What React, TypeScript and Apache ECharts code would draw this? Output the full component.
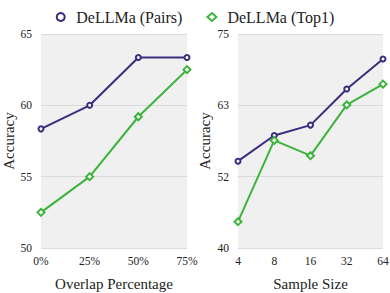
import React, { useEffect, useRef } from "react";
import * as echarts from "echarts";

const overlapCats = ["0%", "25%", "50%", "75%"];
const overlapPairs = [58.35, 60.0, 63.35, 63.35];
const overlapTop1 = [52.5, 55.0, 59.2, 62.5];

const sampleCats = ["4", "8", "16", "32", "64"];
const samplePairs = [54.2, 58.4, 60.1, 66.0, 70.9];
const sampleTop1 = [44.3, 57.6, 55.1, 63.4, 66.8];

const PURPLE = "#3d2b7e";
const GREEN = "#3cb43c";
const FONT = "Liberation Serif";

export default function App() {
  const ref = useRef<HTMLDivElement>(null);
  useEffect(() => {
    document.body.style.margin = "0";
    if (!ref.current) return;
    const chart = echarts.init(ref.current, null, { renderer: "svg" });
    const axisLabel = { color: "#222", fontFamily: FONT, fontSize: 11.5 };
    const nameStyle = { color: "#222", fontFamily: FONT, fontSize: 15 };
    const gridCommon = {
      top: 34,
      bottom: 45,
      show: true,
      backgroundColor: "#f0f0f0",
      borderWidth: 0,
      containLabel: false,
      outerBoundsMode: "none",
    };
    const xAxisCommon = {
      type: "category" as const,
      boundaryGap: false,
      axisLine: { show: false },
      axisTick: { show: false },
      axisLabel: { ...axisLabel, margin: 7 },
      nameLocation: "middle" as const,
      nameGap: 28,
      nameTextStyle: nameStyle,
    };
    const yAxisCommon = {
      type: "value" as const,
      axisLine: { show: false },
      axisTick: { show: false },
      splitLine: { lineStyle: { color: "#dadada", width: 1 } },
      nameLocation: "middle" as const,
      nameTextStyle: nameStyle,
    };
    const lineSeries = (
      name: string,
      data: number[],
      color: string,
      symbol: string,
      idx: number,
      size: number
    ) => ({
      name,
      type: "line" as const,
      xAxisIndex: idx,
      yAxisIndex: idx,
      data,
      symbol,
      symbolSize: size,
      showAllSymbol: true,
      lineStyle: { color, width: 2 },
      itemStyle: { color, borderColor: color, borderWidth: 1.5 },
    });
    chart.setOption({
      animation: false,
      legend: {
        top: 4,
        left: "center",
        itemGap: 24,
        itemWidth: 9,
        itemHeight: 8,
        textStyle: { fontFamily: FONT, fontSize: 16, color: "#222", padding: [0, 0, 0, 6] },
        data: [
          { name: "DeLLMa (Pairs)", icon: "emptyCircle" },
          { name: "DeLLMa (Top1)", icon: "emptyDiamond" },
        ],
      },
      grid: [
        { ...gridCommon, left: 41, right: 203 },
        { ...gridCommon, left: 238, right: 7 },
      ],
      xAxis: [
        { ...xAxisCommon, gridIndex: 0, data: overlapCats, name: "Overlap Percentage" },
        { ...xAxisCommon, gridIndex: 1, data: sampleCats, name: "Sample Size" },
      ],
      yAxis: [
        {
          ...yAxisCommon,
          gridIndex: 0,
          min: 50,
          max: 65,
          interval: 5,
          name: "Accuracy",
          nameGap: 23,
          axisLabel: { ...axisLabel, margin: 9 },
        },
        {
          ...yAxisCommon,
          gridIndex: 1,
          min: 40,
          max: 75,
          interval: 35 / 3,
          name: "Accuracy",
          nameGap: 26,
          axisLabel: {
            ...axisLabel,
            margin: 9,
            formatter: (v: number) => String(Math.round(v)),
          },
        },
      ],
      series: [
        lineSeries("DeLLMa (Pairs)", overlapPairs, PURPLE, "emptyCircle", 0, 5),
        lineSeries("DeLLMa (Top1)", overlapTop1, GREEN, "emptyDiamond", 0, 7),
        lineSeries("DeLLMa (Pairs)", samplePairs, PURPLE, "emptyCircle", 1, 5),
        lineSeries("DeLLMa (Top1)", sampleTop1, GREEN, "emptyDiamond", 1, 7),
      ],
    });
    return () => chart.dispose();
  }, []);
  return <div ref={ref} style={{ width: 390, height: 293 }} />;
}
